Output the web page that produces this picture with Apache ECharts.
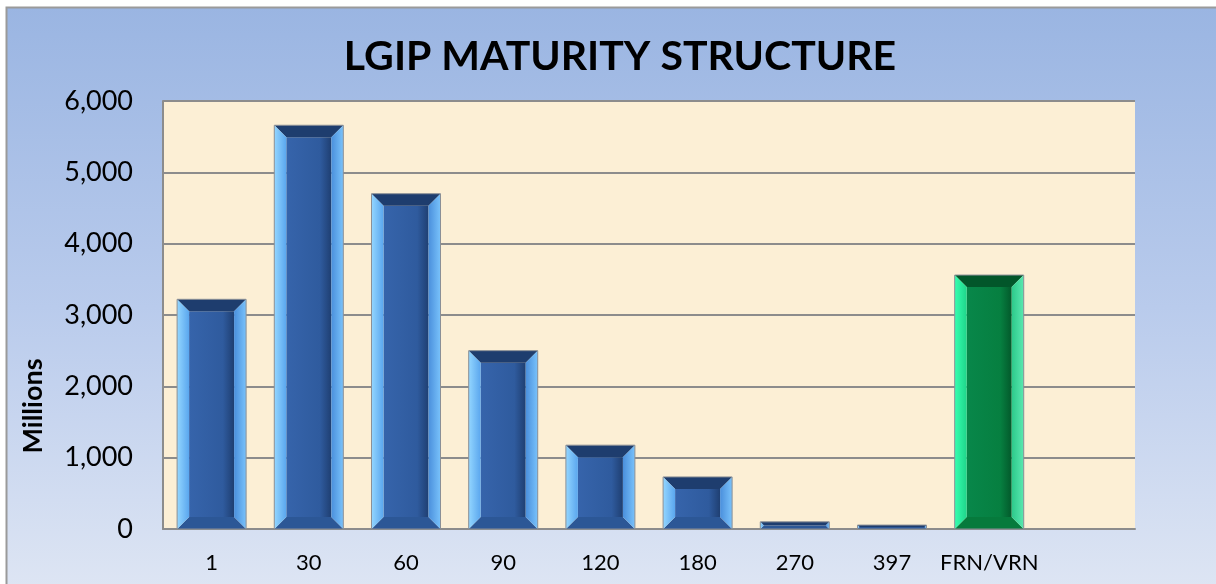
<!DOCTYPE html>
<html>
<head>
<meta charset="utf-8">
<script src="https://cdn.jsdelivr.net/npm/echarts@6/dist/echarts.min.js"></script>
<style>
html,body{margin:0;padding:0;background:#ffffff;}
#chart{width:1216px;height:584px;}
</style>
</head>
<body>
<div id="chart"></div>
<script>
const categories = ['1', '30', '60', '90', '120', '180', '270', '397', 'FRN/VRN', ''];
const values = [3220, 5660, 4700, 2500, 1175, 730, 100, 55, 3560];
const yTicks = [0, 1000, 2000, 3000, 4000, 5000, 6000];
const titleText = 'LGIP MATURITY STRUCTURE';
const yAxisName = 'Millions';

const FONT = 'Lato, "Open Sans", sans-serif';

const palettes = {
  blue: {
    top: '#1e3d6e', bottom: '#2c5796', leftOuter: '#93d6ff', leftInner: '#5aa6ee',
    rightInner: '#4a8fdc', rightOuter: '#79c2fb', c1: '#3664ab', c2: '#2f5b9e', c3: '#1f3f72'
  },
  green: {
    top: '#02562a', bottom: '#067a3c', leftOuter: '#36ffb0', leftInner: '#1fd58a',
    rightInner: '#2cc98a', rightOuter: '#5ae8b0', c1: '#08874a', c2: '#067f40', c3: '#03592b'
  }
};

const chart = echarts.init(document.getElementById('chart'), null, {renderer: 'canvas'});

function lin(x1, y1, x2, y2, a, b) {
  return new echarts.graphic.LinearGradient(x1, y1, x2, y2, [{offset: 0, color: a}, {offset: 1, color: b}]);
}

function renderItem(params, api) {
  const idx = api.value(0);
  const top = api.coord([idx, api.value(1)]);
  const base = api.coord([idx, 0]);
  const bw = api.size([1, 0])[0] * 0.71;
  const l = top[0] - bw / 2, r = top[0] + bw / 2, t = top[1], b = base[1];
  const h = b - t;
  const bv = Math.min(12, h / 2, bw / 2);
  const p = categories[idx] === 'FRN/VRN' ? palettes.green : palettes.blue;
  const children = [
    {type: 'rect', shape: {x: l + bv, y: t + bv, width: Math.max(0, bw - 2 * bv), height: Math.max(0, h - 2 * bv)},
     style: {fill: new echarts.graphic.LinearGradient(0, 0, 1, 0, [{offset: 0, color: p.c1}, {offset: 0.75, color: p.c2}, {offset: 1, color: p.c3}])}},
    {type: 'polygon', shape: {points: [[l, t], [r, t], [r - bv, t + bv], [l + bv, t + bv]]}, style: {fill: p.top}},
    {type: 'polygon', shape: {points: [[l, b], [r, b], [r - bv, b - bv], [l + bv, b - bv]]}, style: {fill: p.bottom}},
    {type: 'polygon', shape: {points: [[l, t], [l + bv, t + bv], [l + bv, b - bv], [l, b]]}, style: {fill: lin(0, 0, 1, 0, p.leftOuter, p.leftInner)}},
    {type: 'polygon', shape: {points: [[r, t], [r - bv, t + bv], [r - bv, b - bv], [r, b]]}, style: {fill: lin(0, 0, 1, 0, p.rightInner, p.rightOuter)}},
    {type: 'rect', shape: {x: l, y: t, width: bw, height: h}, style: {fill: 'none', stroke: '#8a8f96', lineWidth: 1}}
  ];
  return {type: 'group', children: children};
}

const option = {
  animation: false,
  backgroundColor: 'transparent',
  graphic: [
    {type: 'rect', z: -10, silent: true,
     shape: {x: 6.5, y: 7.5, width: 1220, height: 600},
     style: {fill: new echarts.graphic.LinearGradient(0, 0, 0, 1, [{offset: 0, color: '#9ab5e2'}, {offset: 0.5, color: '#b9cbec'}, {offset: 1, color: '#e0e7f4'}]),
             stroke: '#9a9a9a', lineWidth: 2}},
    {type: 'text', z: 10, silent: true,
     x: 33, y: 406, rotation: Math.PI / 2,
     style: {text: yAxisName, fill: '#000', font: 'bold 27px ' + FONT, textAlign: 'center', textVerticalAlign: 'middle'}}
  ],
  title: {
    text: titleText,
    left: 615, top: 31, textAlign: 'center',
    textStyle: {fontFamily: FONT, fontWeight: 'bold', fontSize: 41, color: '#000'}
  },
  grid: {left: 163, right: 81, top: 101, bottom: 55, show: true, backgroundColor: '#fcefd5', borderWidth: 0},
  xAxis: {
    type: 'category', data: categories,
    axisLine: {show: true, lineStyle: {color: '#8c8c8c', width: 2}},
    axisTick: {show: false},
    axisLabel: {color: '#000', fontSize: 22, margin: 23, fontFamily: FONT, interval: 0}
  },
  yAxis: {
    type: 'value', min: 0, max: 6000, interval: 1000,
    axisLine: {show: true, lineStyle: {color: '#8c8c8c', width: 2}},
    axisTick: {show: false},
    splitLine: {show: true, lineStyle: {color: '#8c8c8c', width: 2}},
    axisLabel: {color: '#000', fontSize: 27, margin: 30, fontFamily: FONT,
      customValues: yTicks,
      formatter: v => v.toLocaleString('en-US')}
  },
  series: [{
    type: 'custom',
    renderItem: renderItem,
    encode: {x: 0, y: 1},
    data: values.map((v, i) => [i, v]),
    z: 5
  }]
};
chart.setOption(option);
</script>
</body>
</html>
